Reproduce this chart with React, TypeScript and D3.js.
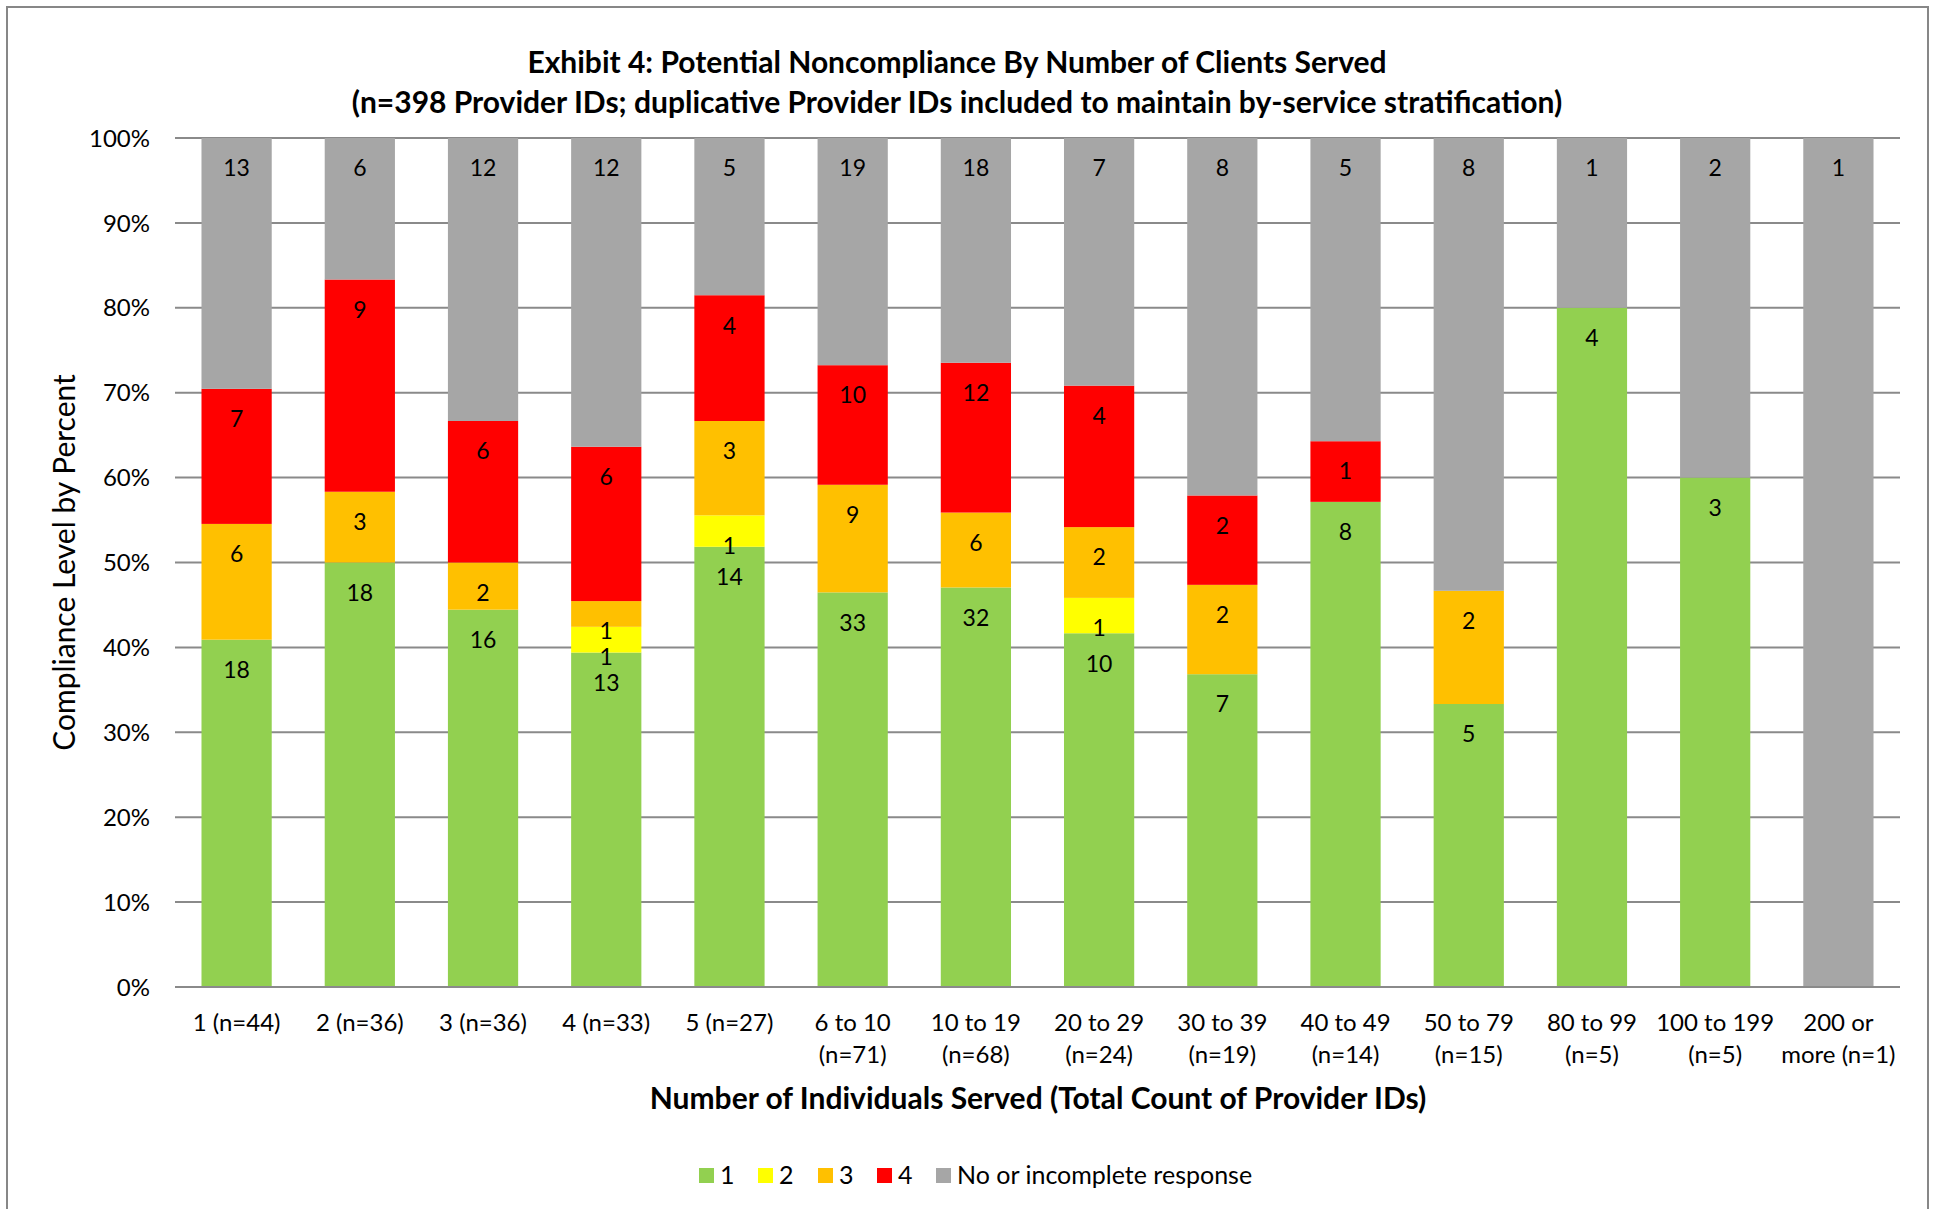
import React, { useEffect, useRef } from 'react'
import * as d3 from 'd3'

const categories = [
  '1 (n=44)', '2 (n=36)', '3 (n=36)', '4 (n=33)', '5 (n=27)',
  '6 to 10\n(n=71)', '10 to 19\n(n=68)', '20 to 29\n(n=24)', '30 to 39\n(n=19)',
  '40 to 49\n(n=14)', '50 to 79\n(n=15)', '80 to 99\n(n=5)', '100 to 199\n(n=5)', '200 or\nmore (n=1)',
]
const seriesNames = ['1', '2', '3', '4', 'No or incomplete response']
const level1 = [18, 18, 16, 13, 14, 33, 32, 10, 7, 8, 5, 4, 3, 0]
const level2 = [0, 0, 0, 1, 1, 0, 0, 1, 0, 0, 0, 0, 0, 0]
const level3 = [6, 3, 2, 1, 3, 9, 6, 2, 2, 0, 2, 0, 0, 0]
const level4 = [7, 9, 6, 6, 4, 10, 12, 4, 2, 1, 0, 0, 0, 0]
const noResponse = [13, 6, 12, 12, 5, 19, 18, 7, 8, 5, 8, 1, 2, 1]
const colors = ['#92D050', '#FFFF00', '#FFC000', '#FF0000', '#A6A6A6']
const yTicks = [0, 0.1, 0.2, 0.3, 0.4, 0.5, 0.6, 0.7, 0.8, 0.9, 1]

const W = 1935
const H = 1209
const m = { left: 175, right: 35, top: 138, bottom: 222 }
const FONT = 'Lato, "Open Sans", sans-serif'

export default function App() {
  const svgRef = useRef<SVGSVGElement | null>(null)

  useEffect(() => {
    const svg = d3.select(svgRef.current)
    svg.selectAll('*').remove()

    const rows = categories.map((c, i) => ({
      cat: c, s0: level1[i], s1: level2[i], s2: level3[i], s3: level4[i], s4: noResponse[i],
    }))
    const keys = ['s0', 's1', 's2', 's3', 's4']
    const stacked = d3.stack<any>().keys(keys).offset(d3.stackOffsetExpand)(rows)

    const x = d3.scaleBand().domain(categories).range([m.left, W - m.right]).paddingInner(0.43).paddingOuter(0.215)
    const y = d3.scaleLinear().domain([0, 1]).range([H - m.bottom, m.top])

    // chart border
    svg.append('rect')
      .attr('x', 7).attr('y', 7).attr('width', 1921).attr('height', 1210)
      .attr('fill', '#fff').attr('stroke', '#878787').attr('stroke-width', 2)

    // gridlines
    svg.append('g')
      .selectAll('line')
      .data(yTicks)
      .join('line')
      .attr('x1', m.left).attr('x2', W - m.right)
      .attr('y1', d => y(d)).attr('y2', d => y(d))
      .attr('stroke', '#8a8a8a').attr('stroke-width', 2)

    // y tick labels
    svg.append('g')
      .selectAll('text')
      .data(yTicks)
      .join('text')
      .attr('x', 150).attr('y', d => y(d)).attr('dy', '0.36em')
      .attr('text-anchor', 'end')
      .attr('font-family', FONT).attr('font-size', 24).attr('fill', '#000')
      .text(d => d3.format('.0%')(d))

    // bars
    const groups = svg.append('g')
      .selectAll('g')
      .data(stacked)
      .join('g')
      .attr('fill', (_, i) => colors[i])
    groups.selectAll('rect')
      .data(d => d)
      .join('rect')
      .attr('x', (d: any) => x(d.data.cat)!)
      .attr('width', x.bandwidth())
      .attr('y', d => y(d[1]))
      .attr('height', d => y(d[0]) - y(d[1]))

    // value labels (inside end)
    const labels = svg.append('g')
      .attr('font-family', FONT).attr('font-size', 23).attr('fill', '#000')
      .attr('text-anchor', 'middle')
    stacked.forEach(series => {
      series.forEach((d: any) => {
        const v = d.data[series.key]
        if (!v) return
        labels.append('text')
          .attr('x', x(d.data.cat)! + x.bandwidth() / 2)
          .attr('y', y(d[1]) + 30)
          .attr('dy', '0.36em')
          .text(v)
      })
    })

    // x axis line
    svg.append('line')
      .attr('x1', m.left).attr('x2', W - m.right)
      .attr('y1', y(0)).attr('y2', y(0))
      .attr('stroke', '#8a8a8a').attr('stroke-width', 2)

    // x tick labels
    const xt = svg.append('g')
      .attr('font-family', FONT).attr('font-size', 24).attr('fill', '#000')
      .attr('text-anchor', 'middle')
    categories.forEach(c => {
      const t = xt.append('text')
        .attr('x', x(c)! + x.bandwidth() / 2)
        .attr('y', 1022)
      c.split('\n').forEach((line, j) => {
        t.append('tspan')
          .attr('x', x(c)! + x.bandwidth() / 2)
          .attr('dy', j === 0 ? '0.36em' : '32')
          .text(line)
      })
    })

    // titles
    svg.append('text')
      .attr('x', 957).attr('y', 62).attr('dy', '0.36em')
      .attr('text-anchor', 'middle')
      .attr('font-family', FONT).attr('font-size', 30).attr('font-weight', 'bold')
      .text('Exhibit 4: Potential Noncompliance By Number of Clients Served')
    svg.append('text')
      .attr('x', 957).attr('y', 102).attr('dy', '0.36em')
      .attr('text-anchor', 'middle')
      .attr('font-family', FONT).attr('font-size', 30).attr('font-weight', 'bold')
      .text('(n=398 Provider IDs; duplicative Provider IDs included to maintain by-service stratification)')
    svg.append('text')
      .attr('x', 1038).attr('y', 1098).attr('dy', '0.36em')
      .attr('text-anchor', 'middle')
      .attr('font-family', FONT).attr('font-size', 30).attr('font-weight', 'bold')
      .text('Number of Individuals Served (Total Count of Provider IDs)')
    svg.append('text')
      .attr('transform', `translate(64,${(m.top + H - m.bottom) / 2}) rotate(-90)`)
      .attr('dy', '0.36em')
      .attr('text-anchor', 'middle')
      .attr('font-family', FONT).attr('font-size', 30)
      .text('Compliance Level by Percent')

    // legend
    const legendX = [699, 758, 818, 877, 936]
    const leg = svg.append('g')
      .selectAll('g')
      .data(seriesNames)
      .join('g')
      .attr('transform', (_, i) => `translate(${legendX[i]},1175)`)
    leg.append('rect')
      .attr('x', 0).attr('y', -7).attr('width', 15).attr('height', 15)
      .attr('fill', (_, i) => colors[i])
    leg.append('text')
      .attr('x', 21).attr('dy', '0.36em')
      .attr('font-family', FONT).attr('font-size', 25)
      .text(d => d)
  }, [])

  return (
    <svg ref={svgRef} width={W} height={H}
      style={{ position: 'absolute', left: 0, top: 0, display: 'block', background: '#fff' }} />
  )
}
